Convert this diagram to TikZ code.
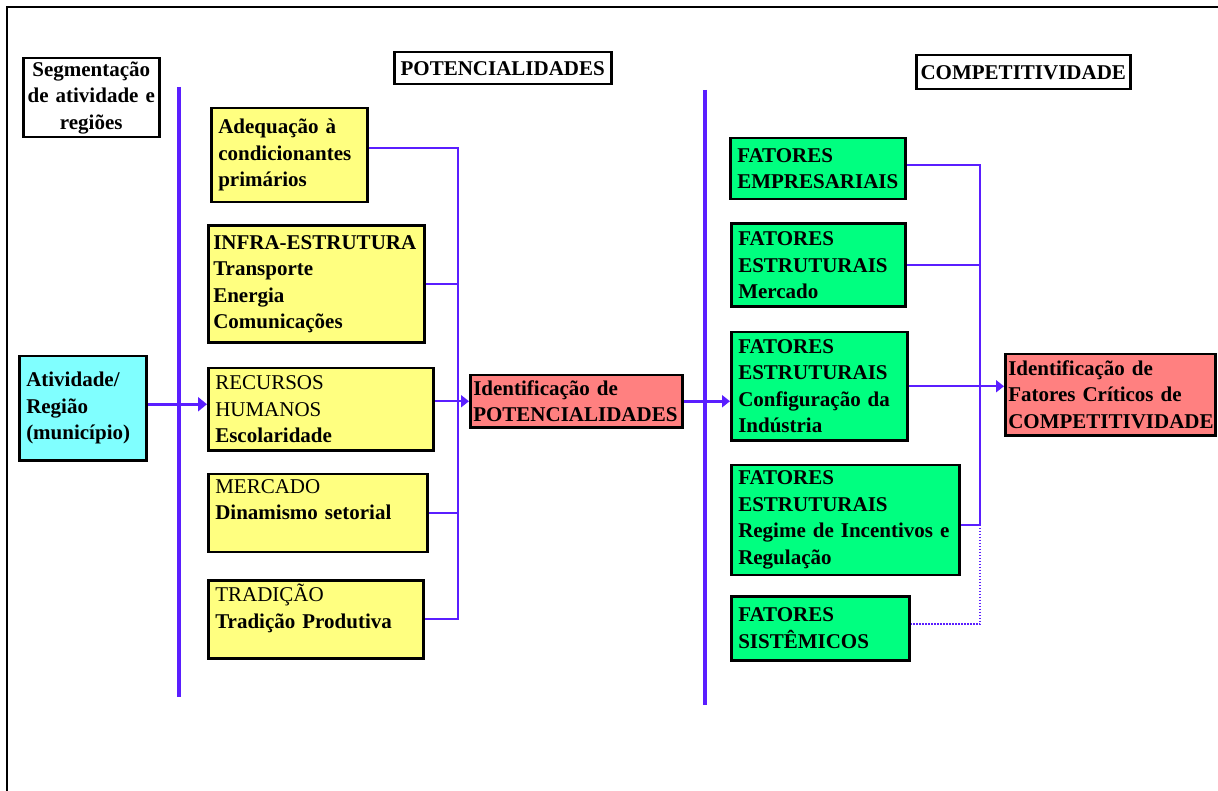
\documentclass[tikz,border=0pt]{standalone}
\usepackage{fontspec}
\setmainfont{Liberation Serif}
\usetikzlibrary{arrows.meta,positioning}
\hyphenpenalty=10000
\exhyphenpenalty=10000

\definecolor{potyellow}{RGB}{255,255,128}
\definecolor{ativcyan}{RGB}{128,255,255}
\definecolor{fatgreen}{RGB}{0,255,128}
\definecolor{idred}{RGB}{255,128,128}
\definecolor{linkblue}{RGB}{90,30,255}

\begin{document}
\begin{tikzpicture}[
  x=1pt, y=-1pt,
  >={Triangle[length=8pt,width=12pt]},
  box/.style={draw, line width=2.5pt, anchor=north west, align=left,
              font=\bfseries\fontsize{21}{26.5}\selectfont,
              inner xsep=7pt, inner ysep=2pt},
  headbox/.style={box, align=center, fill=white, inner xsep=2pt},
  potbox/.style={box, fill=potyellow},
  fatbox/.style={box, fill=fatgreen},
  idbox/.style={box, fill=idred, inner xsep=3pt},
  spine/.style={draw=linkblue, line width=3.5pt},
  link/.style={draw=linkblue, line width=1.8pt},
  dotlink/.style={link, dash pattern=on 1.5pt off 1.5pt}
]
\useasboundingbox (0,0) rectangle (1218,791);

% frame
\draw[line width=2.5pt] (7,791) -- (7,7) -- (1218,7);

% headers
\node[headbox, text width=132pt, minimum height=79pt] (seg) at (22,57) {Segmentação\\de atividade e\\regiões};
\node[headbox, text width=213pt, minimum height=32pt] (potH) at (393,51) {POTENCIALIDADES};
\node[headbox, text width=210pt, minimum height=34pt] (compH) at (915,54) {COMPETITIVIDADE};

% spines
\coordinate (spLtop) at (179,87);
\coordinate (spLbot) at (179,697);
\coordinate (spRtop) at (705,90);
\coordinate (spRbot) at (705,705);
\draw[spine] (spLtop) -- (spLbot);
\draw[spine] (spRtop) -- (spRbot);

% atividade
\node[box, fill=ativcyan, text width=113pt, minimum height=104pt] (ativ) at (18,355) {Atividade/\\Região\\(município)};

% potencialidades
\node[potbox, text width=142pt, minimum height=94pt] (adeq) at (210,107) {Adequação à\\condicionantes\\primários};
\node[potbox, inner xsep=5pt, text width=206pt, minimum height=117pt, below=21pt of adeq.south west, xshift=-3pt, anchor=north west] (infra) {INFRA-ESTRUTURA\\Transporte\\Energia\\Comunicações};
\node[potbox, text width=211pt, minimum height=82pt, below=23pt of infra.south west, anchor=north west] (rec) {\textmd{RECURSOS}\\\textmd{HUMANOS}\\Escolaridade};
\node[potbox, text width=205pt, minimum height=78pt, below=21pt of rec.south west, anchor=north west] (merc) {\textmd{MERCADO}\\Dinamismo setorial\\~};
\node[potbox, text width=201pt, minimum height=78pt, below=26pt of merc.south west, anchor=north west] (trad) {\textmd{TRADIÇÃO}\\Tradição Produtiva\\~};

\node[idbox, text width=206pt, minimum height=52pt] (pot) at (469,374) {Identificação de\\POTENCIALIDADES};

% competitividade
\node[fatbox, text width=161pt, minimum height=61pt] (emp) at (729,137) {FATORES\\EMPRESARIAIS};
\node[fatbox, text width=160pt, minimum height=83pt, below=22pt of emp.south west, xshift=1pt, anchor=north west] (mercG) {FATORES\\ESTRUTURAIS\\Mercado};
\node[fatbox, text width=162pt, minimum height=108pt, below=23pt of mercG.south west, anchor=north west] (conf) {FATORES\\ESTRUTURAIS\\Configuração da\\Indústria};
\node[fatbox, text width=214pt, minimum height=110pt, below=22pt of conf.south west, anchor=north west] (reg) {FATORES\\ESTRUTURAIS\\Regime de Incentivos e\\Regulação};
\node[fatbox, text width=164pt, minimum height=64pt, below=19pt of reg.south west, anchor=north west] (sist) {FATORES\\SISTÊMICOS};

\node[idbox, text width=204pt, minimum height=81pt] (crit) at (1004,353) {Identificação de\\Fatores Críticos de\\COMPETITIVIDADE};

% connectors
\coordinate (busL) at (458,0);
\coordinate (busR) at (980,0);
\coordinate (regout) at ([yshift=-5pt]reg.east);
\coordinate (sistout) at ([yshift=4pt]sist.east);

\draw[spine, line width=3pt, ->, >={Triangle[length=9pt,width=14pt]}] ([yshift=4pt]ativ.east) -- ([yshift=4pt]ativ.east -| rec.west);

\draw[link] ([yshift=7pt]adeq.east) -| (busL |- trad.east) -- (trad.east);
\draw[link] (infra.east) -- (infra.east -| busL);
\draw[link] (merc.east) -- (merc.east -| busL);
\draw[link, ->] (rec.east |- pot.west) -- (pot.west);

\draw[link, line width=2.5pt, ->] (pot.east) -- (pot.east -| conf.west);

\draw[link] ([yshift=4pt]emp.east) -| (busR |- regout) -- (regout);
\draw[link] (mercG.east) -- (mercG.east -| busR);
\draw[link, ->] (conf.east) -- (conf.east -| crit.west);
\draw[dotlink] (busR |- regout) |- (sistout);

\end{tikzpicture}
\end{document}
